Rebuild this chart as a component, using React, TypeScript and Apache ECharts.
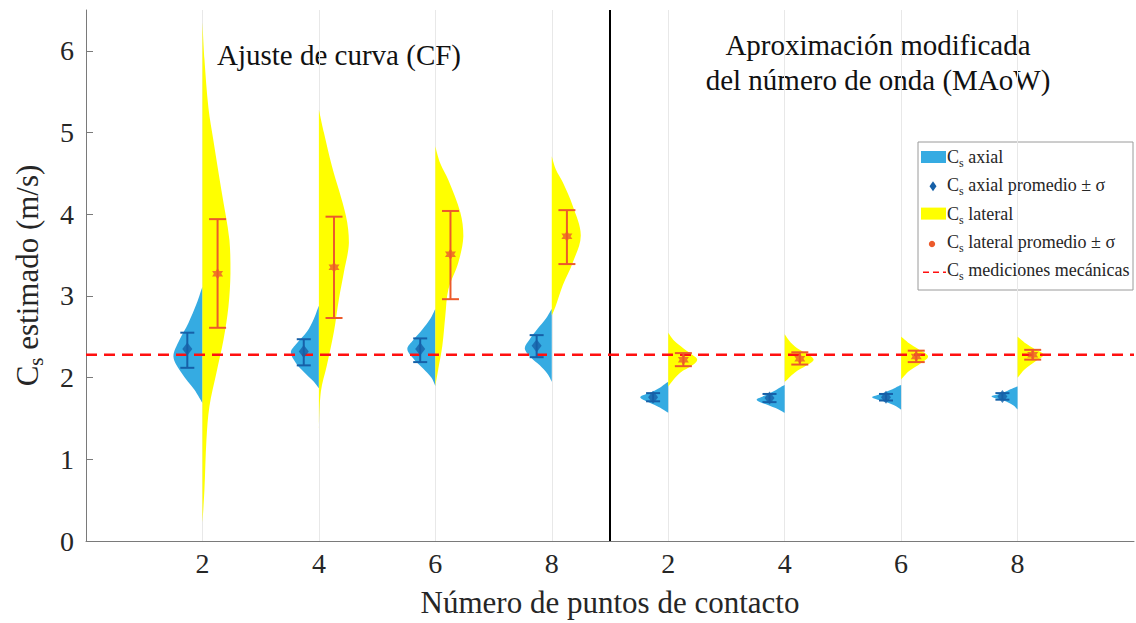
import React, { useEffect, useRef } from "react";
import * as echarts from "echarts";

// ---------- data ----------
const groupPositions = [1, 2, 3, 4, 5, 6, 7, 8];
const tickLabels = ["2", "4", "6", "8", "2", "4", "6", "8"];
const yTicks = [0, 1, 2, 3, 4, 5, 6];
const methodTitleCF = "Ajuste de curva (CF)";
const methodTitleMAoW = "Aproximación modificada\ndel número de onda (MAoW)";
const separatorX = 4.5;
const mechanicalCs = 2.28;

// violin outlines: [Cs value, density (half-width)]
const axialProfiles: number[][][] = [
  [[3.11, 0], [2.9, 6], [2.67, 14], [2.46, 23], [2.26, 29], [2.06, 21], [1.85, 8], [1.69, 0]],
  [[2.88, 0], [2.72, 5], [2.56, 12], [2.42, 22], [2.31, 28], [2.18, 23], [2.07, 15], [1.95, 5], [1.87, 0]],
  [[2.84, 0], [2.72, 5], [2.59, 13], [2.46, 22], [2.35, 28], [2.22, 21], [2.11, 12], [2.0, 4], [1.9, 0]],
  [[2.84, 0], [2.72, 6], [2.6, 14], [2.47, 22], [2.36, 27], [2.25, 21], [2.15, 12], [2.04, 4], [1.95, 0]],
  [[1.95, 0], [1.88, 8], [1.82, 17], [1.76, 28], [1.7, 20], [1.63, 8], [1.57, 0]],
  [[1.91, 0], [1.84, 10], [1.78, 20], [1.73, 28], [1.67, 18], [1.61, 6], [1.57, 0]],
  [[1.91, 0], [1.85, 10], [1.8, 20], [1.76, 29], [1.7, 15], [1.65, 5], [1.61, 0]],
  [[1.89, 0], [1.84, 10], [1.8, 18], [1.77, 26], [1.72, 14], [1.66, 4], [1.61, 0]],
];
const lateralProfiles: number[][][] = [
  [[6.35, 0], [5.9, 2], [5.3, 6], [4.9, 11], [4.29, 19], [3.68, 27], [3.28, 28], [2.87, 26], [2.46, 21], [2.06, 14], [1.65, 7], [1.24, 4], [0.63, 2], [0.22, 0]],
  [[5.28, 0], [5.0, 5], [4.59, 13], [3.98, 27], [3.65, 30], [3.29, 25], [2.96, 20], [2.56, 15], [2.15, 8], [1.83, 2], [1.38, 0]],
  [[4.83, 0], [4.62, 5], [4.42, 13], [4.02, 25], [3.73, 28], [3.41, 23], [3.08, 13], [2.76, 10], [2.39, 7], [2.11, 3], [1.9, 0]],
  [[4.71, 0], [4.55, 4], [4.39, 11], [4.1, 21], [3.74, 29], [3.41, 21], [3.13, 11], [2.88, 4], [2.76, 0]],
  [[2.55, 0], [2.45, 6], [2.36, 15], [2.28, 24], [2.22, 29], [2.15, 24], [2.06, 12], [1.97, 5], [1.89, 0]],
  [[2.53, 0], [2.43, 6], [2.34, 15], [2.28, 24], [2.22, 29], [2.15, 22], [2.06, 10], [1.95, 0]],
  [[2.5, 0], [2.42, 8], [2.35, 17], [2.26, 27], [2.18, 20], [2.08, 8], [1.98, 0]],
  [[2.5, 0], [2.42, 8], [2.35, 17], [2.28, 26], [2.2, 18], [2.1, 7], [2.0, 0]],
];

const axialMean = [2.35, 2.32, 2.35, 2.39, 1.76, 1.75, 1.76, 1.77];
const axialLow = [2.12, 2.15, 2.19, 2.25, 1.71, 1.7, 1.72, 1.73];
const axialHigh = [2.55, 2.47, 2.48, 2.52, 1.81, 1.8, 1.8, 1.81];
const lateralMean = [3.27, 3.35, 3.51, 3.73, 2.22, 2.23, 2.26, 2.28];
const lateralLow = [2.61, 2.73, 2.96, 3.39, 2.14, 2.16, 2.19, 2.22];
const lateralHigh = [3.94, 3.97, 4.04, 4.05, 2.3, 2.31, 2.33, 2.34];

// ---------- style ----------
const DENSITY_TO_X = 1 / 116.4;
const MEAN_OFFSET = 0.13;
const FONT = "'Liberation Serif', 'DejaVu Serif', serif";
const axialFill = "#35ABE2";
const lateralFill = "#FFFF00";
const axialDark = "#1660A8";
const lateralDark = "#EC5A2B";
const refColor = "#FF1010";
const axisGray = "#7a7a7a";
const textColor = "#262626";

function violinSeries(name: string, profiles: number[][][], side: number, color: string) {
  return {
    type: "custom",
    name,
    z: 10,
    silent: true,
    data: groupPositions.map((p, i) => [p, profiles[i][0][0], profiles[i][profiles[i].length - 1][0]]),
    encode: { x: 0, y: [1, 2] },
    renderItem: (params: any, api: any) => {
      const i = params.dataIndex;
      const pos = groupPositions[i];
      const pts = profiles[i].map(([v, d]) => api.coord([pos + side * d * DENSITY_TO_X, v]));
      return {
        type: "polygon",
        shape: { points: pts, smooth: 0.35, smoothConstraint: [pts[0], pts[0]] },
        style: { fill: color },
      };
    },
  };
}

function errorBarSeries(name: string, low: number[], high: number[], offset: number, color: string, capHalf: number) {
  return {
    type: "custom",
    name,
    z: 12,
    silent: true,
    data: groupPositions.map((p, i) => [p + offset, low[i], high[i]]),
    encode: { x: 0, y: [1, 2] },
    renderItem: (params: any, api: any) => {
      const x = api.value(0);
      const lo = api.coord([x, api.value(1)]);
      const hi = api.coord([x, api.value(2)]);
      const st = { stroke: color, lineWidth: 2 };
      return {
        type: "group",
        children: [
          { type: "line", shape: { x1: lo[0], y1: lo[1], x2: hi[0], y2: hi[1] }, style: st },
          { type: "line", shape: { x1: lo[0] - capHalf, y1: lo[1], x2: lo[0] + capHalf, y2: lo[1] }, style: st },
          { type: "line", shape: { x1: hi[0] - capHalf, y1: hi[1], x2: hi[0] + capHalf, y2: hi[1] }, style: st },
        ],
      };
    },
  };
}

const hexagram =
  "path://M0,-10L2.885,-5L8.66,-5L5.77,0L8.66,5L2.885,5L0,10L-2.885,5L-8.66,5L-5.77,0L-8.66,-5L-2.885,-5Z";

function csRich(rest: string) {
  return `{c|C}{s|s}{c|${rest}}`;
}

function buildLegend() {
  const x0 = 918;
  const y0 = 142;
  const items = [
    { label: " axial", kind: "patch", color: axialFill },
    { label: " axial promedio ± σ", kind: "diamond", color: axialDark },
    { label: " lateral", kind: "patch", color: lateralFill },
    { label: " lateral promedio ± σ", kind: "dot", color: lateralDark },
    { label: " mediciones mecánicas", kind: "dash", color: refColor },
  ];
  const children: any[] = [
    { type: "rect", shape: { x: x0, y: y0, width: 215, height: 148 }, style: { fill: "#fff", stroke: "#9a9a9a", lineWidth: 1 } },
  ];
  items.forEach((it, k) => {
    const cy = 157 + k * 28.3;
    if (it.kind === "patch") {
      children.push({ type: "rect", shape: { x: 921, y: cy - 6, width: 25, height: 12 }, style: { fill: it.color } });
    } else if (it.kind === "diamond") {
      children.push({ type: "polygon", shape: { points: [[933, cy - 4], [936.5, cy + 1], [933, cy + 6], [929.5, cy + 1]] }, style: { fill: it.color } });
    } else if (it.kind === "dot") {
      children.push({ type: "circle", shape: { cx: 932, cy: cy + 2, r: 3.2 }, style: { fill: it.color } });
    } else {
      children.push({ type: "line", shape: { x1: 923, y1: cy + 2, x2: 946, y2: cy + 2 }, style: { stroke: it.color, lineWidth: 1.5, lineDash: [6, 4] } });
    }
    children.push({
      type: "text",
      x: 947,
      y: cy,
      style: {
        text: csRich(it.label),
        verticalAlign: "middle",
        align: "left",
        rich: {
          c: { fontFamily: FONT, fontSize: 18, lineHeight: 24, fill: textColor, verticalAlign: "middle" },
          s: { fontFamily: FONT, fontSize: 12, lineHeight: 12, fill: textColor, verticalAlign: "bottom" },
        },
      },
    });
  });
  return { type: "group", children };
}

export default function App() {
  const ref = useRef<HTMLDivElement>(null);
  useEffect(() => {
    if (!ref.current) return;
    const chart = echarts.init(ref.current, null, { renderer: "svg" });
    const option: any = {
      animation: false,
      backgroundColor: "#ffffff",
      grid: { left: 86, right: 2, top: 10, bottom: 81, containLabel: false },
      xAxis: {
        type: "value",
        min: 0,
        max: 9,
        interval: 1,
        name: "Número de puntos de contacto",
        nameLocation: "middle",
        nameGap: 46,
        nameTextStyle: { fontFamily: FONT, fontSize: 31, color: textColor },
        axisLine: { show: true, lineStyle: { color: axisGray, width: 1 } },
        axisTick: { show: true, inside: true, length: 7, customValues: groupPositions, lineStyle: { color: axisGray } },
        axisLabel: {
          customValues: groupPositions,
          formatter: (v: number) => tickLabels[groupPositions.indexOf(v)] ?? "",
          fontFamily: FONT,
          fontSize: 28,
          color: textColor,
          margin: 8,
        },
        splitLine: { show: false },
      },
      yAxis: {
        type: "value",
        min: 0,
        max: 6.5,
        interval: 1,
        name: csRich(" estimado (m/s)"),
        nameLocation: "middle",
        nameGap: 40,
        nameRotate: 90,
        nameTextStyle: {
          rich: {
            c: { fontFamily: FONT, fontSize: 31, lineHeight: 38, color: textColor, verticalAlign: "middle" },
            s: { fontFamily: FONT, fontSize: 21, lineHeight: 18, color: textColor, verticalAlign: "bottom" },
          },
        },
        axisLine: { show: true, lineStyle: { color: axisGray, width: 1 } },
        axisTick: { show: true, inside: true, length: 7, customValues: yTicks, lineStyle: { color: axisGray } },
        axisLabel: { customValues: yTicks, fontFamily: FONT, fontSize: 28, color: textColor, margin: 12 },
        splitLine: { show: false },
      },
      graphic: [
        {
          type: "text",
          x: 339,
          y: 55,
          style: { text: methodTitleCF, align: "center", verticalAlign: "middle", fontFamily: FONT, fontSize: 29, fill: "#111" },
        },
        {
          type: "text",
          x: 878,
          y: 62,
          style: { text: methodTitleMAoW, align: "center", verticalAlign: "middle", fontFamily: FONT, fontSize: 29, lineHeight: 35, fill: "#111" },
        },
        buildLegend(),
      ],
      series: [
        {
          type: "line",
          name: "guides",
          data: [],
          silent: true,
          markLine: {
            silent: true,
            symbol: ["none", "none"],
            label: { show: false },
            data: [
              ...groupPositions.map((p) => ({ xAxis: p, lineStyle: { color: "#e8e8e8", width: 1, type: "solid" } })),
              { xAxis: separatorX, lineStyle: { color: "#000", width: 2, type: "solid" } },
            ],
          },
        },
        violinSeries("Cs axial", axialProfiles, -1, axialFill),
        violinSeries("Cs lateral", lateralProfiles, 1, lateralFill),
        {
          type: "line",
          name: "Cs mediciones mecánicas",
          z: 11,
          silent: true,
          data: [[0, mechanicalCs], [9, mechanicalCs]],
          symbol: "none",
          lineStyle: { color: refColor, width: 2.5, type: [11, 7] },
        },
        errorBarSeries("Cs axial ± σ", axialLow, axialHigh, -MEAN_OFFSET, axialDark, 7),
        errorBarSeries("Cs lateral ± σ", lateralLow, lateralHigh, MEAN_OFFSET, lateralDark, 8.5),
        {
          type: "scatter",
          name: "Cs axial promedio",
          z: 13,
          silent: true,
          symbol: "diamond",
          symbolSize: [10, 13],
          itemStyle: { color: axialDark },
          data: groupPositions.map((p, i) => [p - MEAN_OFFSET, axialMean[i]]),
        },
        {
          type: "scatter",
          name: "Cs lateral promedio",
          z: 13,
          silent: true,
          symbol: hexagram,
          symbolSize: 11,
          itemStyle: { color: lateralDark },
          data: groupPositions.map((p, i) => [p + MEAN_OFFSET, lateralMean[i]]),
        },
      ],
    };
    chart.setOption(option);
    return () => chart.dispose();
  }, []);
  return <div ref={ref} style={{ position: "fixed", left: 0, top: 0, width: 1136, height: 623 }} />;
}
